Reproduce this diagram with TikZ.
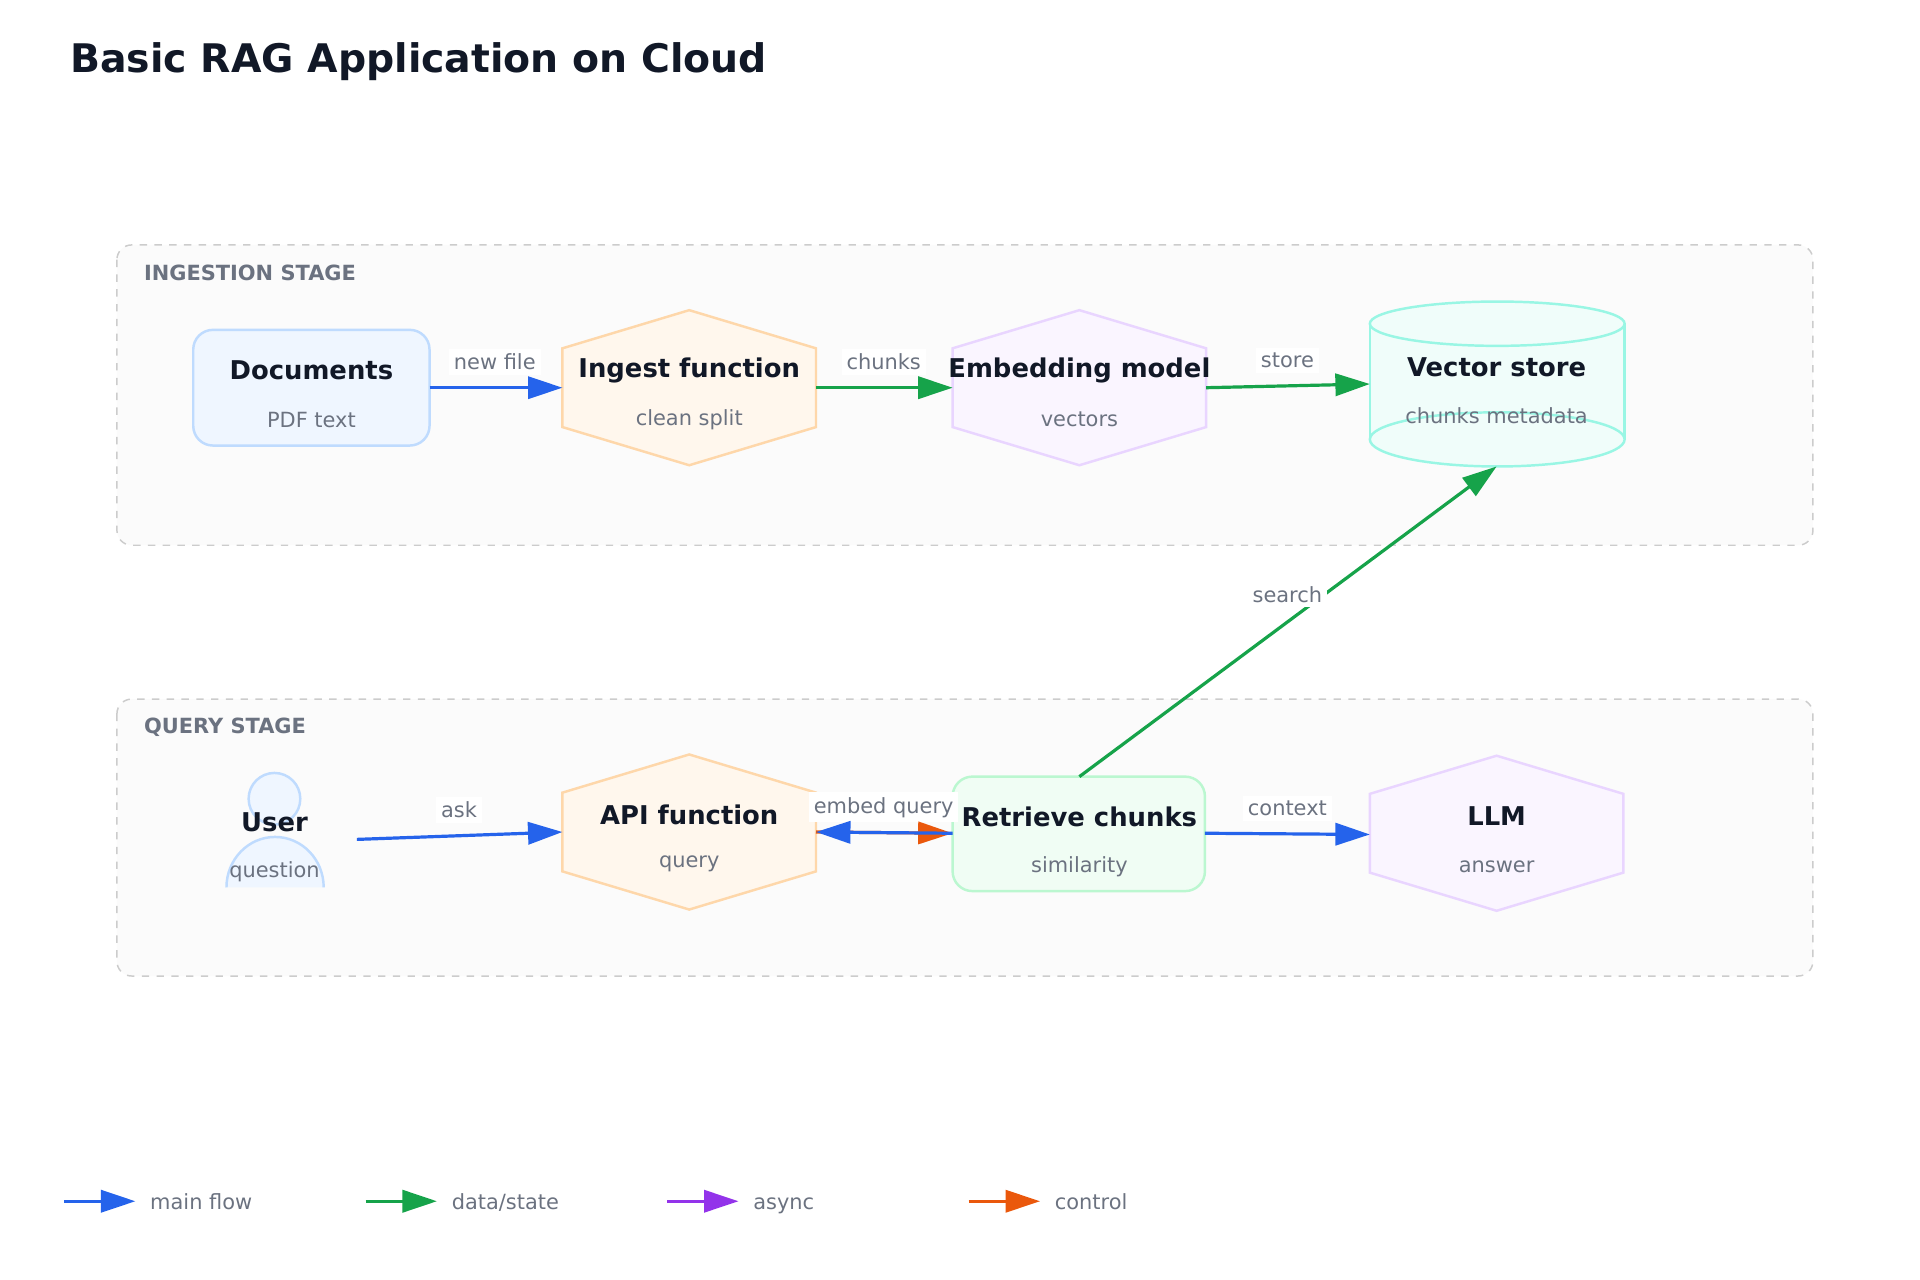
\documentclass[tikz,border=0pt]{standalone}
\usepackage{fontspec}
\setmainfont{DejaVu Sans}
\usetikzlibrary{arrows.meta}
\definecolor{ink}{HTML}{111827}
\definecolor{mut}{HTML}{6B7280}
\definecolor{cblue}{HTML}{2563EB}
\definecolor{cgreen}{HTML}{16A34A}
\definecolor{cpurp}{HTML}{9333EA}
\definecolor{corg}{HTML}{EA580C}
\definecolor{bfill}{HTML}{EFF6FF}\definecolor{bstr}{HTML}{BFDBFE}
\tikzset{
 stage/.style={draw=black!20,dashed,fill=black!1.5,rounded corners=6pt,line width=0.6pt},
 stlab/.style={anchor=west,text=mut,font=\bfseries\fontsize{8.5}{10}\selectfont},
 ttl/.style={text=ink,font=\bfseries\fontsize{10.5}{12}\selectfont},
 sub/.style={text=mut,font=\fontsize{8.5}{10}\selectfont},
 lab/.style={text=mut,font=\fontsize{8.5}{10}\selectfont,fill=white,inner sep=2pt},
 arr/.style={line width=1.3pt,-{Triangle[length=14pt,width=9pt]}},
}
\begin{document}
\begin{tikzpicture}[x=0.5pt,y=-0.5pt]
\useasboundingbox (0,0) rectangle (1560,1040);
\node[anchor=west,text=ink,font=\bfseries\fontsize{16}{19}\selectfont] (title) at (50,50) {Basic RAG Application on Cloud};
\draw[stage] (95,199) rectangle (1473,443);
\node[stlab] (l1) at (110,222) {INGESTION STAGE};
\draw[stage] (95,568) rectangle (1473,793);
\node[stlab] (l2) at (110,591) {QUERY STAGE};
% Documents
\draw[draw=bstr,fill=bfill,line width=1pt,rounded corners=8pt] (157,268) rectangle (349,362);
\node[ttl] at (253,301) {Documents};\node[sub] at (253,341) {PDF text};
% hexagons
\newcommand{\hexa}[5]{\draw[draw=#4,fill=#5,line width=1pt] (#1,#2-63) -- (#1+103,#2-32) -- (#1+103,#2+32) -- (#1,#2+63) -- (#1-103,#2+32) -- (#1-103,#2-32) -- cycle; \coordinate (#3) at (#1,#2);}
\definecolor{ofill}{HTML}{FFF7ED}\definecolor{ostr}{HTML}{FED7AA}
\definecolor{pfill}{HTML}{FAF5FF}\definecolor{pstr}{HTML}{E9D5FF}
\hexa{560}{315}{ing}{ostr}{ofill}
\node[ttl] at (560,301) {Ingest function};\node[sub] at (560,341) {clean split};
\hexa{877}{315}{emb}{pstr}{pfill}
\node[ttl] at (877,301) {Embedding model};\node[sub] at (877,341) {vectors};
% Vector store
\definecolor{tfill}{HTML}{F0FDFA}\definecolor{tstr}{HTML}{99F6E4}
\fill[tfill] (1113,263) -- (1113,357) arc[start angle=180,end angle=360,x radius=103,y radius=-22] -- (1320,263) -- cycle;
\draw[tstr,line width=1pt] (1113,263) -- (1113,357) (1320,263) -- (1320,357);
\draw[tstr,fill=tfill,line width=1pt] (1216.5,263) ellipse[x radius=103.5,y radius=-18];
\draw[tstr,line width=1pt] (1216.5,357) ellipse[x radius=103.5,y radius=-22];
\node[ttl] at (1216,298) {Vector store};\node[sub] at (1216,338) {chunks metadata};
% User
\draw[bstr,fill=bfill,line width=1pt] (223,649) circle[radius=21];
\draw[bstr,fill=bfill,line width=1pt] (184,721) arc[start angle=180,end angle=0,x radius=39.5,y radius=-41];
\node[ttl] at (223,668) {User};\node[sub] at (223,708) {question};
\hexa{560}{676}{api}{ostr}{ofill}
\node[ttl] at (560,662) {API function};\node[sub] at (560,702) {query};
\definecolor{gfill}{HTML}{F0FDF4}\definecolor{gstr}{HTML}{BBF7D0}
\draw[draw=gstr,fill=gfill,line width=1pt,rounded corners=8pt] (774,631) rectangle (979,724);
\node[ttl] at (877,664) {Retrieve chunks};\node[sub] at (877,704) {similarity};
\hexa{1216}{677}{llm}{pstr}{pfill}
\node[ttl] at (1216,663) {LLM};\node[sub] at (1216,704) {answer};
% edges
\draw[arr,cblue] (349,315) -- (457,315);
\node[lab] at (402,294) {new file};
\draw[arr,cgreen] (663,315) -- (774,315);
\node[lab] at (718,294) {chunks};
\draw[arr,cgreen] (980,315) -- (1113,312);
\node[lab] at (1046,293) {store};
\draw[arr,cblue] (290,682) -- (457,676);
\node[lab] at (373,658) {ask};
\node[lab] at (718,656) {embed query};
\draw[arr,corg] (663,676) -- (774,677);
\draw[arr,cblue] (774,677) -- (663,676);
\draw[arr,cgreen] (877,631) -- (1216,379);
\node[lab] at (1046,483) {search};
\draw[arr,cblue] (979,677) -- (1113,678);
\node[lab] at (1046,657) {context};
% legend
\foreach \x/\c/\t in {52/cblue/main flow,297/cgreen/data\slash state,542/cpurp/async,787/corg/control}{
 \draw[arr,\c] (\x,976) -- (\x+58,976);
 \node[sub,anchor=west,text height=1.6ex,text depth=0.4ex] at (\x+63,976) {\t};
}
\end{tikzpicture}
\end{document}
